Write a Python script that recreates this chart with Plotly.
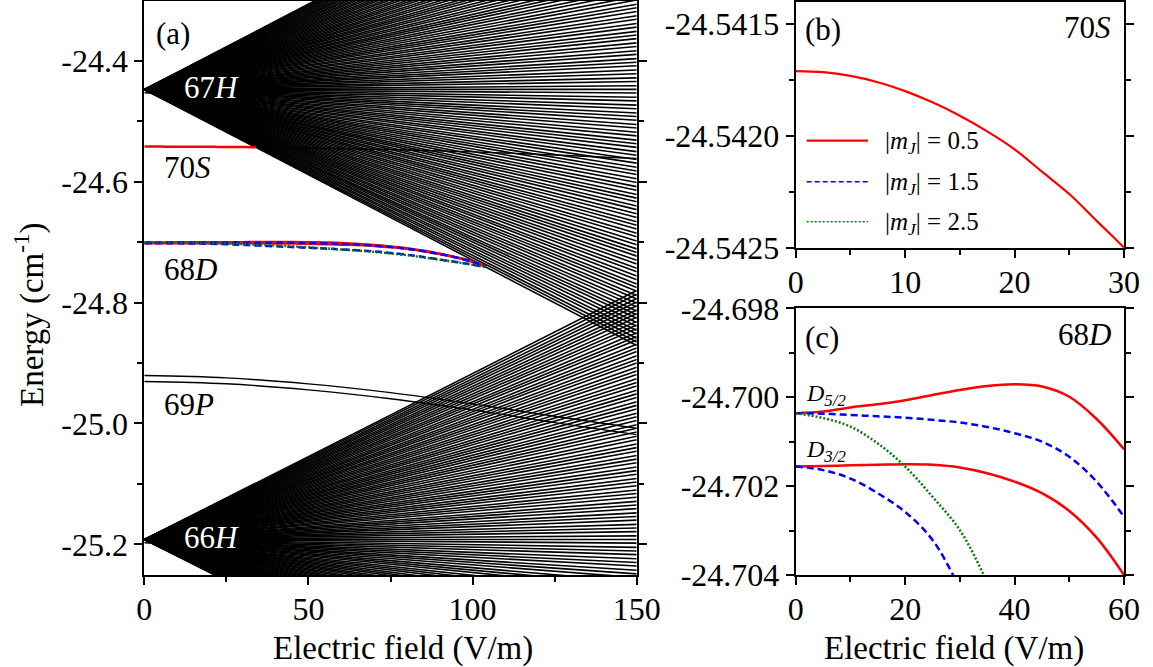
import plotly.graph_objects as go

W, H = 1153, 667
SERIF = "Liberation Serif"

# ---------------- panel (a): Stark map ----------------
FIELD_MAX = 150  # V/m, right edge of the map

# zero-field energy of each hydrogenic manifold (cm^-1)
h67_zero = -24.447
h66_zero = -25.192

# energy of every Stark line of the manifold at FIELD_MAX (cm^-1)
h67_edge = [
    -24.023, -24.029, -24.035, -24.042, -24.048, -24.055, -24.061, -24.068, -24.074, -24.080,
    -24.087, -24.093, -24.100, -24.106, -24.113, -24.119, -24.126, -24.132, -24.138, -24.145,
    -24.151, -24.158, -24.164, -24.171, -24.177, -24.183, -24.190, -24.196, -24.203, -24.209,
    -24.216, -24.222, -24.228, -24.235, -24.241, -24.248, -24.254, -24.261, -24.267, -24.273,
    -24.280, -24.286, -24.293, -24.299, -24.306, -24.312, -24.318, -24.325, -24.331, -24.338,
    -24.344, -24.351, -24.357, -24.363, -24.370, -24.376, -24.383, -24.389, -24.396, -24.402,
    -24.408, -24.415, -24.421, -24.428, -24.434, -24.441, -24.447, -24.453, -24.460, -24.466,
    -24.473, -24.479, -24.486, -24.492, -24.498, -24.505, -24.511, -24.518, -24.524, -24.531,
    -24.537, -24.543, -24.550, -24.556, -24.563, -24.569, -24.576, -24.582, -24.588, -24.595,
    -24.601, -24.608, -24.614, -24.621, -24.627, -24.633, -24.640, -24.646, -24.653, -24.659,
    -24.666, -24.672, -24.678, -24.685, -24.691, -24.698, -24.704, -24.711, -24.717, -24.723,
    -24.730, -24.736, -24.743, -24.749, -24.756, -24.762, -24.769, -24.775, -24.781, -24.788,
    -24.794, -24.801, -24.807, -24.814, -24.820, -24.826, -24.833, -24.839, -24.846, -24.852,
    -24.859, -24.865, -24.871,
]
h66_edge = [
    -24.780, -24.786, -24.793, -24.799, -24.805, -24.812, -24.818, -24.824, -24.831, -24.837,
    -24.843, -24.850, -24.856, -24.862, -24.869, -24.875, -24.881, -24.888, -24.894, -24.900,
    -24.907, -24.913, -24.919, -24.926, -24.932, -24.938, -24.945, -24.951, -24.957, -24.964,
    -24.970, -24.976, -24.983, -24.989, -24.995, -25.002, -25.008, -25.014, -25.021, -25.027,
    -25.034, -25.040, -25.046, -25.053, -25.059, -25.065, -25.072, -25.078, -25.084, -25.091,
    -25.097, -25.103, -25.110, -25.116, -25.122, -25.129, -25.135, -25.141, -25.148, -25.154,
    -25.160, -25.167, -25.173, -25.179, -25.186, -25.192, -25.198, -25.205, -25.211, -25.217,
    -25.224, -25.230, -25.236, -25.243, -25.249, -25.255, -25.262, -25.268, -25.274, -25.281,
    -25.287, -25.293, -25.300, -25.306, -25.312, -25.319, -25.325, -25.331, -25.338, -25.344,
    -25.351, -25.357, -25.363, -25.370, -25.376, -25.382, -25.389, -25.395, -25.401, -25.408,
    -25.414, -25.420, -25.427, -25.433, -25.439, -25.446, -25.452, -25.458, -25.465, -25.471,
    -25.477, -25.484, -25.490, -25.496, -25.503, -25.509, -25.515, -25.522, -25.528, -25.534,
    -25.541, -25.547, -25.553, -25.560, -25.566, -25.572, -25.579, -25.585, -25.591, -25.598,
    -25.604,
]

# low-field states just below each manifold that bend into it
h67_side_field = [0, 3, 6, 8, 10]
h67_side_energy = [-24.4525, -24.4532, -24.4560, -24.4620, -24.4753]
h66_side_field = [0, 3, 6, 8, 10]
h66_side_energy = [-25.1975, -25.1982, -25.2010, -25.2070, -25.2195]

# 70S |mJ| = 0.5
s70_field = [0, 2.5, 5, 7.5, 10, 12.5, 15, 17.5, 20, 22.5, 25, 27.5, 30, 32.5, 34]
s70_energy = [-24.54171, -24.541715, -24.541732, -24.54176, -24.54180, -24.54185, -24.54191,
              -24.54198, -24.54206, -24.54216, -24.54226, -24.54238, -24.54250, -24.54264,
              -24.54273]
# 70S continuing through the manifold
s70_tail_field = [34, 50, 75, 100, 125, 150]
s70_tail_energy = [-24.5427, -24.5439, -24.5466, -24.5505, -24.5555, -24.5615]

# 69P fine-structure pair
p69_field = [0, 25, 50, 75, 100, 125, 150]
p69_j32 = [-24.9207, -24.9245, -24.9345, -24.9490, -24.9675, -24.9880, -25.0080]
p69_j12 = [-24.9305, -24.9343, -24.9443, -24.9590, -24.9775, -24.9985, -25.0185]

# 68D states (panel (a) uses the whole list, panel (c) the part up to 60 V/m)
d_field = [0, 5, 10, 15, 20, 25, 30, 35, 40, 45, 50, 55, 60, 70, 80, 90, 100, 104]
D_ZOOM_POINTS = 13  # entries of d_field up to 60 V/m
d52_m05 = [-24.70036, -24.70032, -24.70023, -24.70016, -24.70007, -24.69995, -24.69984,
           -24.69975, -24.69971, -24.69976, -24.69999, -24.70049, -24.70117, -24.7045,
           -24.7100, -24.7190, -24.7320, -24.7400]
d52_m15 = [-24.70036, -24.70037, -24.70040, -24.70043, -24.70046, -24.70051, -24.70057,
           -24.70067, -24.70081, -24.70100, -24.70134, -24.70190, -24.70269, -24.7055,
           -24.7108, -24.7195, -24.7322, -24.7402]
d52_m25 = [-24.70036, -24.70047, -24.70066, -24.70104, -24.70156, -24.70224, -24.70299,
           -24.70416, -24.7055, -24.7068, -24.7085, -24.7102, -24.7120, -24.7160,
           -24.7215, -24.7290, -24.7372, -24.7415]
d32_m05 = [-24.70156, -24.70155, -24.70153, -24.70152, -24.70151, -24.70152, -24.70158,
           -24.70171, -24.70190, -24.70216, -24.70256, -24.70316, -24.70400, -24.7062,
           -24.7110, -24.7195, -24.7322, -24.7405]
d32_m15 = [-24.70156, -24.70164, -24.70183, -24.70216, -24.70258, -24.70321, -24.70430,
           -24.7056, -24.7068, -24.7080, -24.7092, -24.7105, -24.7118, -24.7152,
           -24.7207, -24.7286, -24.7370, -24.7412]

# tick labels
a_xticks = [0, 50, 100, 150]
a_yticks = [-25.2, -25.0, -24.8, -24.6, -24.4]
a_yticktext = ["-25.2", "-25.0", "-24.8", "-24.6", "-24.4"]
b_xticks = [0, 10, 20, 30]
b_yticks = [-24.5425, -24.5420, -24.5415]
b_yticktext = ["-24.5425", "-24.5420", "-24.5415"]
c_xticks = [0, 20, 40, 60]
c_yticks = [-24.704, -24.702, -24.700, -24.698]
c_yticktext = ["-24.704", "-24.702", "-24.700", "-24.698"]

legend_labels = ["|<i>m<sub>J</sub></i>| = 0.5", "|<i>m<sub>J</sub></i>| = 1.5",
                 "|<i>m<sub>J</sub></i>| = 2.5"]

RED, BLUE, GREEN = "#ff0000", "#0000ff", "#008000"


def px(x):
    return x / W


def py(y):
    return 1 - y / H


fig = go.Figure()


def fan(zero, edges):
    xs, ys = [], []
    for e in edges:
        xs += [0, FIELD_MAX, None]
        ys += [zero, e, None]
    return xs, ys


for zero, edges in [(h67_zero, h67_edge), (h66_zero, h66_edge)]:
    fx, fy = fan(zero, edges)
    fig.add_trace(go.Scatter(x=fx, y=fy, mode="lines", line=dict(color="black", width=1.6),
                             xaxis="x", yaxis="y", showlegend=False, hoverinfo="skip"))

for fx, fy in [(h67_side_field, h67_side_energy), (h66_side_field, h66_side_energy),
               (s70_tail_field, s70_tail_energy), (p69_field, p69_j32), (p69_field, p69_j12)]:
    fig.add_trace(go.Scatter(x=fx, y=fy, mode="lines", line=dict(color="black", width=1.4, shape="spline"),
                             xaxis="x", yaxis="y", showlegend=False))

# 70S in (a) and (b)
for ax, ay, w in [("x", "y", 2.5), ("x2", "y2", 2.2)]:
    fig.add_trace(go.Scatter(x=s70_field, y=s70_energy, mode="lines",
                             line=dict(color=RED, width=w, shape="spline"),
                             xaxis=ax, yaxis=ay, showlegend=False))

# 68D in (a) and (c)
d_styles = [
    (d52_m05, RED, None),
    (d32_m05, RED, None),
    (d52_m15, BLUE, "7px,4px"),
    (d32_m15, BLUE, "7px,4px"),
    (d52_m25, GREEN, "2px,2px"),
]
for ax, ay, w, n in [("x", "y", 2.5, len(d_field)), ("x3", "y3", 2.5, D_ZOOM_POINTS)]:
    for ys, col, dash in d_styles:
        line = dict(color=col, width=w, shape="spline")
        if dash:
            line["dash"] = dash
        fig.add_trace(go.Scatter(x=d_field[:n], y=ys[:n], mode="lines", line=line,
                                 xaxis=ax, yaxis=ay, showlegend=False))

tickfont = dict(family=SERIF, size=32, color="black")
base = dict(showline=True, linecolor="black", linewidth=2, ticks="outside", ticklen=8,
            tickwidth=2, tickcolor="black", showgrid=False, zeroline=False,
            tickfont=tickfont, tickmode="array", automargin=False)
xbase = dict(base, ticklabelstandoff=-3)


def minor(vals):
    return dict(tickmode="array", tickvals=vals, ticks="outside", ticklen=5,
                tickwidth=2, tickcolor="black", showgrid=False)


fig.update_layout(
    template="none",
    width=W, height=H, margin=dict(l=0, r=0, t=0, b=0, pad=0), autosize=False,
    paper_bgcolor="white", plot_bgcolor="white", showlegend=False,
    font=dict(family=SERIF, color="black"),
    xaxis=dict(xbase, domain=[px(144.3), px(636.7)], range=[0, 150], anchor="y",
               tickvals=a_xticks, ticktext=[str(v) for v in a_xticks],
               minor=minor([25, 75, 125]), mirror=True),
    yaxis=dict(base, domain=[py(575), py(1)], range=[-25.2508, -24.3007], anchor="x",
               tickvals=a_yticks, ticktext=a_yticktext,
               minor=minor([-25.1, -24.9, -24.7, -24.5]), mirror="allticks"),
    xaxis2=dict(xbase, domain=[px(795.7), px(1124)], range=[0, 30], anchor="y2",
                tickvals=b_xticks, ticktext=[str(v) for v in b_xticks],
                minor=minor([5, 15, 25]), mirror=True),
    yaxis2=dict(base, domain=[py(247.7), py(1.7)], range=[-24.5425, -24.5414], anchor="x2",
                tickvals=b_yticks, ticktext=b_yticktext,
                minor=minor([-24.54225, -24.54175]), mirror="allticks"),
    xaxis3=dict(xbase, domain=[px(795.7), px(1124)], range=[0, 60], anchor="y3",
                tickvals=c_xticks, ticktext=[str(v) for v in c_xticks],
                minor=minor([10, 30, 50]), mirror=True),
    yaxis3=dict(base, domain=[py(575), py(308.3)], range=[-24.704, -24.698], anchor="x3",
                tickvals=c_yticks, ticktext=c_yticktext,
                minor=minor([-24.703, -24.701, -24.699]), mirror="allticks"),
)

ann = []


def text(x, y, s, size=31, color="black", xanchor="center", angle=0):
    ann.append(dict(x=px(x), y=py(y), xref="paper", yref="paper", text=s, showarrow=False,
                    xanchor=xanchor, yanchor="middle", textangle=angle,
                    font=dict(family=SERIF, size=size, color=color)))


text(154, 33, "(a)", xanchor="left")
text(182, 87, "67<i>H</i>", color="white", xanchor="left")
text(162, 168, "70<i>S</i>", xanchor="left")
text(162, 269, "68<i>D</i>", xanchor="left")
text(162, 404, "69<i>P</i>", xanchor="left")
text(182, 537, "66<i>H</i>", color="white", xanchor="left")
text(803, 30, "(b)", xanchor="left")
text(1113, 28, "70<i>S</i>", xanchor="right")
text(803, 337, "(c)", xanchor="left")
text(1113, 334, "68<i>D</i>", xanchor="right")
text(804, 395, "<i>D<sub>5/2</sub></i>", size=24, xanchor="left")
text(804, 451, "<i>D<sub>3/2</sub></i>", size=24, xanchor="left")
text(403, 648, "Electric field (V/m)", size=33)
text(954, 648, "Electric field (V/m)", size=33)
text(29, 315, "Energy (cm<sup>-1</sup>)", size=33, angle=-90)

# legend of panel (b)
legend_rows = [140.7, 181.7, 221.7]
legend_styles = [(RED, None, 2.2), (BLUE, "5px,3px", 1.6), (GREEN, "2px,2px", 1.6)]
shapes = []
for yy, lab, (col, dash, w) in zip(legend_rows, legend_labels, legend_styles):
    ln = dict(color=col, width=w)
    if dash:
        ln["dash"] = dash
    shapes.append(dict(type="line", xref="paper", yref="paper", x0=px(806.7), x1=px(868),
                       y0=py(yy), y1=py(yy), line=ln))
    text(882.7, yy + 2, lab, size=25, xanchor="left")

fig.update_layout(annotations=ann, shapes=shapes)
fig.write_html("out.html")
